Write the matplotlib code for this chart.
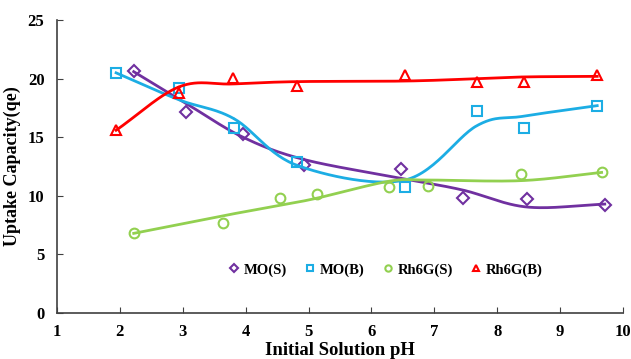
import matplotlib
matplotlib.use('Agg')
import matplotlib.pyplot as plt
import numpy as np

plt.rcParams['font.family'] = 'Liberation Serif'
plt.rcParams['font.weight'] = 'bold'

# measured points
mos_x = [2.22, 3.05, 3.96, 4.93, 6.47, 7.45, 8.47, 9.71]
mos_y = [20.65, 17.2, 15.3, 12.6, 12.3, 9.8, 9.7, 9.25]
mob_x = [1.94, 2.94, 3.81, 4.82, 6.53, 7.68, 8.42, 9.59]
mob_y = [20.5, 19.2, 15.8, 12.9, 10.75, 17.25, 15.8, 17.7]
rhs_x = [2.22, 3.64, 4.55, 5.13, 6.28, 6.90, 8.38, 9.66]
rhs_y = [6.8, 7.7, 9.8, 10.2, 10.75, 10.8, 11.85, 12.0]
rhb_x = [1.94, 2.94, 3.80, 4.82, 6.53, 7.68, 8.42, 9.59]
rhb_y = [15.6, 18.8, 20.1, 19.4, 20.3, 19.7, 19.7, 20.3]

# smoothed trend values at the same pH
mos_fit = [20.6, 17.9, 15.0, 13.1, 11.5, 10.5, 9.05, 9.3]
mob_fit = [20.5, 18.2, 16.6, 12.6, 11.35, 16.0, 16.8, 17.7]
rhs_fit = [6.8, 8.3, 9.2, 9.8, 11.25, 11.35, 11.3, 12.0]
rhb_fit = [15.6, 19.3, 19.55, 19.75, 19.8, 20.0, 20.15, 20.2]

labels = ['MO(S)', 'MO(B)', 'Rh6G(S)', 'Rh6G(B)']
colors = ['#7030A0', '#1CADE4', '#92D050', '#FF0000']
markers = ['D', 's', 'o', '^']


def smooth(x, y, n=30):
    # Catmull-Rom through the trend values (like Excel's smoothed line)
    p = np.column_stack([x, y]).astype(float)
    p = np.vstack([2 * p[0] - p[1], p, 2 * p[-1] - p[-2]])
    out = []
    t = np.linspace(0, 1, n)[:, None]
    for i in range(1, len(p) - 2):
        p0, p1, p2, p3 = p[i - 1], p[i], p[i + 1], p[i + 2]
        seg = 0.5 * ((2 * p1) + (-p0 + p2) * t + (2 * p0 - 5 * p1 + 4 * p2 - p3) * t ** 2
                     + (-p0 + 3 * p1 - 3 * p2 + p3) * t ** 3)
        out.append(seg)
    out = np.vstack(out)
    return out[:, 0], out[:, 1]


fig = plt.figure(figsize=(6.31, 3.59), dpi=100)
ax = fig.add_axes([0.0903, 0.128, 0.897, 0.816])

series = [(mos_x, mos_y, mos_fit), (mob_x, mob_y, mob_fit),
          (rhs_x, rhs_y, rhs_fit), (rhb_x, rhb_y, rhb_fit)]
for (x, y, f), lab, c, m in zip(series, labels, colors, markers):
    sx, sy = smooth(x, f)
    ax.plot(sx, sy, color=c, lw=2)
    ms = 6 if m == 'D' else 7
    ax.plot(x, y, ls='none', marker=m, ms=ms, mfc='none', mec=c, mew=1.5, label=lab)

ax.set_xlim(1, 10)
ax.set_ylim(0, 25)
ax.set_xticks(range(1, 11))
ax.set_yticks(range(0, 26, 5))
ax.tick_params(direction='in', length=4, labelsize=12, color='#404040')
ax.tick_params(axis='x', pad=8)
ax.tick_params(axis='y', pad=9)
for lbl in ax.get_xticklabels() + ax.get_yticklabels():
    lbl.set_fontweight('bold')
for s in ['top', 'right']:
    ax.spines[s].set_visible(False)
for s in ['left', 'bottom']:
    ax.spines[s].set_color('#404040')
    ax.spines[s].set_linewidth(1.2)

ax.set_xlabel('Initial Solution pH', fontsize=13.5, fontweight='bold', labelpad=1)
ax.set_ylabel('Uptake Capacity(qe)', fontsize=13, fontweight='bold', labelpad=5)

leg = ax.legend(loc='center', bbox_to_anchor=(0.578, 0.147), ncol=4, frameon=False,
                handletextpad=0.05, columnspacing=1.0, markerscale=0.65, handlelength=1.2,
                prop={'weight': 'bold', 'size': 10.5})

fig.savefig('out.png', dpi=100, facecolor='white')
